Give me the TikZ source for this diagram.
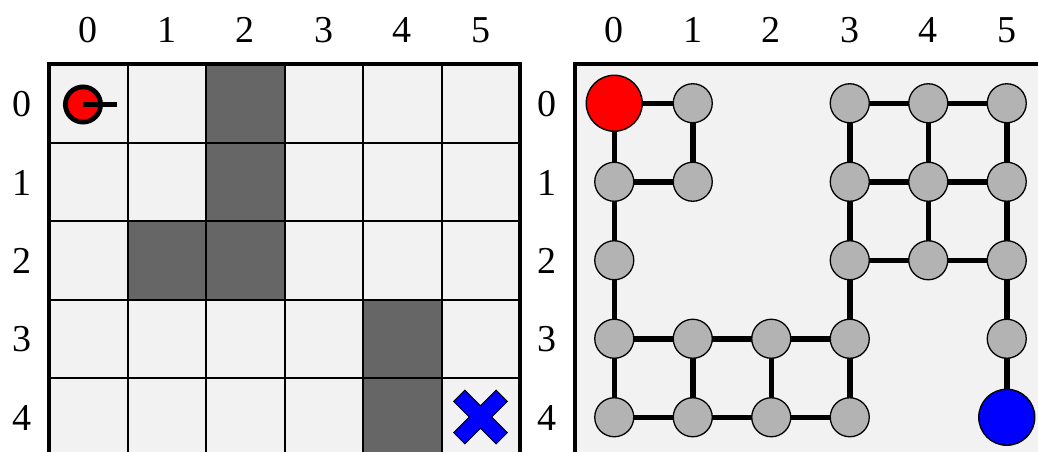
\documentclass[tikz,border=0pt]{standalone}
\usepackage{fontspec}
\setmainfont{Liberation Serif}
\definecolor{cellbg}{HTML}{F2F2F2}
\definecolor{wallc}{HTML}{666666}
\definecolor{nodeg}{HTML}{B3B3B3}
\tikzset{
  lbl/.style={font=\fontsize{38}{40}\selectfont, inner sep=0pt, anchor=center},
  gnode/.style={circle, draw=black, line width=1.3pt, fill=nodeg, minimum size=39pt, inner sep=0pt},
  bignode/.style={circle, draw=black, line width=1.4pt, minimum size=56pt, inner sep=0pt},
  edge/.style={line width=5.5pt},
  gridline/.style={line width=2pt},
  border/.style={line width=4pt},
}
\begin{document}
\begin{tikzpicture}[x=1pt,y=-1pt]
\useasboundingbox (0,0) rectangle (1038,452);
\clip (0,0) rectangle (1038,452);
\def\cs{78.5}
% ---------- left grid ----------
\fill[cellbg] (49,64) rectangle (520,470);
\foreach \r/\c in {0/2,1/2,2/1,2/2,3/4,4/4}{
  \fill[wallc] ({49+\c*\cs},{64+\r*\cs}) rectangle ({49+(\c+1)*\cs},{64+(\r+1)*\cs});
}
\foreach \i in {1,...,5}{
  \draw[gridline] ({49+\i*\cs},64) -- ({49+\i*\cs},470);
}
\foreach \i in {1,...,5}{
  \draw[gridline] (49,{64+\i*\cs}) -- (520,{64+\i*\cs});
}
\draw[border] (49,470) -- (49,64) -- (520,64) -- (520,470);
% labels
\foreach \c in {0,...,5}{
  \node[lbl] (lc\c) at ({88.25+\c*\cs},30) {\c};
  \node[lbl] (rc\c) at ({614.25+\c*\cs},30) {\c};
}
\foreach \r in {0,...,4}{
  \node[lbl] (lr\r) at (22,{104+\r*\cs}) {\r};
  \node[lbl] (rr\r) at (547,{104+\r*\cs}) {\r};
}
% agent
\coordinate (agc) at (83,104.5);
\coordinate (agh) at (116.5,104.5);
\draw[line width=4.8pt, fill=red] (agc) circle (17.6pt);
\draw[line width=4.8pt] (agc) -- (agh);
% goal X
\begin{scope}[shift={(480.5,417)}, rotate=45]
\filldraw[fill=blue, draw=black, line width=0.9pt]
  (-8,-30) -- (8,-30) -- (8,-8) -- (30,-8) -- (30,8) -- (8,8) -- (8,30)
  -- (-8,30) -- (-8,8) -- (-30,8) -- (-30,-8) -- (-8,-8) -- cycle;
\end{scope}
% ---------- right panel ----------
\fill[cellbg] (575,64) rectangle (1060,470);
\draw[border] (575,470) -- (575,64) -- (1060,64);
% nodes
\foreach \r/\c in {0/1,0/3,0/4,0/5,1/0,1/1,1/3,1/4,1/5,2/0,2/3,2/4,2/5,3/0,3/1,3/2,3/3,3/5,4/0,4/1,4/2,4/3}{
  \coordinate (p\r\c) at ({614.25+\c*\cs},{103.25+\r*\cs});
}
\coordinate (p00) at (614.25,103.25);
\coordinate (p45) at ({614.25+5*\cs},{103.25+4*\cs});
% edges
\foreach \a/\b in {00/01,00/10,01/11,10/11,03/04,04/05,03/13,04/14,05/15,13/14,14/15,10/20,13/23,14/24,15/25,20/30,23/24,24/25,23/33,25/35,30/31,31/32,32/33,30/40,31/41,32/42,33/43,40/41,41/42,42/43,35/45}{
  \draw[edge] (p\a) -- (p\b);
}
\foreach \r/\c in {0/1,0/3,0/4,0/5,1/0,1/1,1/3,1/4,1/5,2/0,2/3,2/4,2/5,3/0,3/1,3/2,3/3,3/5,4/0,4/1,4/2,4/3}{
  \node[gnode] (n\r\c) at (p\r\c) {};
}
\node[bignode, fill=red] (n00) at (p00) {};
\node[bignode, fill=blue] (n45) at (p45) {};
\end{tikzpicture}
\end{document}
